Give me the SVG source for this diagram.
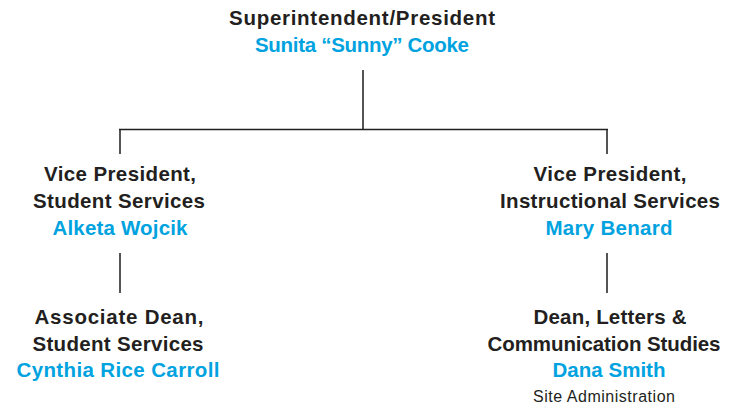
<svg xmlns="http://www.w3.org/2000/svg" width="737" height="409" viewBox="0 0 737 409">
<style>
text{font-family:"Liberation Sans",Arial,sans-serif;text-anchor:middle;font-size:20.5px}
.t{fill:#231f20;font-weight:bold}
.n{fill:#00a3e0;font-weight:bold}
.s{fill:#231f20;font-size:16px}
.v{stroke:#555;stroke-width:2;fill:none}
.h{stroke:#231f20;stroke-width:1.3;fill:none}
</style>
<rect width="737" height="409" fill="#fff"/>
<g id="connectors">
<path class="v" d="M363 70V129M120 129V154M607 129V154M120 253V293M607 253V293"/>
<path class="h" d="M119 129.5H608"/>
</g>
<g id="president">
<text class="t" x="362" y="25" textLength="266">Superintendent/President</text>
<text class="n" x="362" y="52" textLength="214">Sunita “Sunny” Cooke</text>
</g>
<g id="vp-student">
<text class="t" x="120" y="181" textLength="152">Vice President,</text>
<text class="t" x="119" y="208" textLength="172">Student Services</text>
<text class="n" x="120" y="235" textLength="135">Alketa Wojcik</text>
</g>
<g id="vp-instructional">
<text class="t" x="610" y="181" textLength="153">Vice President,</text>
<text class="t" x="610" y="208" textLength="220">Instructional Services</text>
<text class="n" x="609" y="235" textLength="127">Mary Benard</text>
</g>
<g id="assoc-dean">
<text class="t" x="119" y="324" textLength="169">Associate Dean,</text>
<text class="t" x="118" y="351" textLength="171">Student Services</text>
<text class="n" x="118" y="377" textLength="203">Cynthia Rice Carroll</text>
</g>
<g id="dean-letters">
<text class="t" x="610" y="324" textLength="153">Dean, Letters &amp;</text>
<text class="t" x="604" y="351" textLength="233">Communication Studies</text>
<text class="n" x="609" y="377" textLength="113">Dana Smith</text>
<text class="s" x="604" y="402" textLength="142">Site Administration</text>
</g>
</svg>
